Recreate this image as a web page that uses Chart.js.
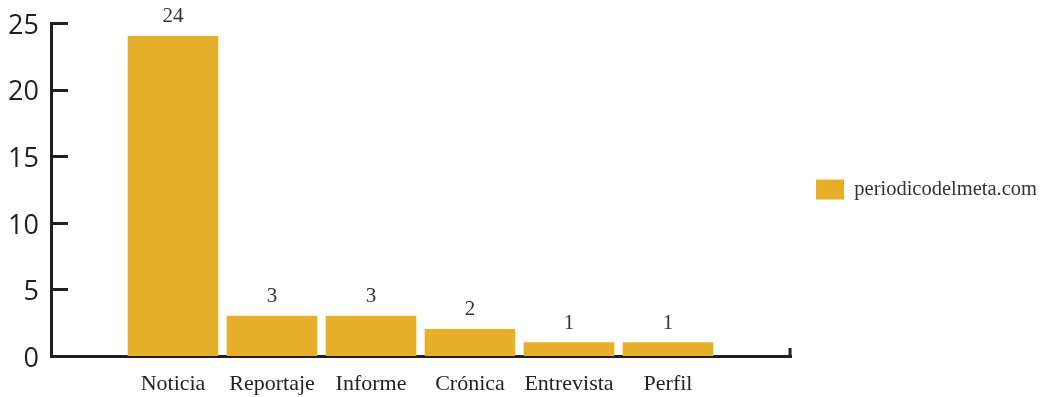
<!DOCTYPE html>
<html>
<head>
<meta charset="utf-8">
<script src="https://cdn.jsdelivr.net/npm/chart.js@4/dist/chart.umd.min.js"></script>
<style>
  html, body { margin: 0; padding: 0; background: #ffffff; }
  #wrap { width: 1045px; height: 397px; position: relative; }
</style>
</head>
<body>
<div id="wrap"><canvas id="c" width="1045" height="397"></canvas></div>
<script>
const categories = ['Noticia', 'Reportaje', 'Informe', 'Crónica', 'Entrevista', 'Perfil'];
const seriesName = 'periodicodelmeta.com';
const seriesValues = [24, 3, 3, 2, 1, 1];
const yTicks = [0, 5, 10, 15, 20, 25];

const BAR_COLOR = '#E6AF2A';
const AXIS_COLOR = '#231F20';
const SERIF = '"Liberation Serif", "DejaVu Serif", serif';
const SANS = '"Open Sans", "Noto Sans", sans-serif';

const positions = categories.map((c, i) => i + 1);
const points = positions.map((x, i) => ({ x: x, y: seriesValues[i] }));

const decorations = {
  id: 'decorations',
  afterDatasetsDraw(chart) {
    const ctx = chart.ctx;
    const ys = chart.scales.y;
    const xs = chart.scales.x;
    ctx.save();
    ctx.strokeStyle = AXIS_COLOR;
    ctx.lineWidth = 3;
    ys.ticks.forEach(t => {
      if (t.value === 0) return;
      const py = Math.round(ys.getPixelForValue(t.value)) + 0.5;
      ctx.beginPath();
      ctx.moveTo(xs.left, py);
      ctx.lineTo(xs.left + 17, py);
      ctx.stroke();
    });
    ctx.beginPath();
    ctx.moveTo(xs.right - 1, ys.bottom + 1);
    ctx.lineTo(xs.right - 1, ys.bottom - 8);
    ctx.stroke();
    const meta = chart.getDatasetMeta(0);
    ctx.fillStyle = '#333333';
    ctx.font = '21px ' + SERIF;
    ctx.textAlign = 'center';
    ctx.textBaseline = 'alphabetic';
    meta.data.forEach((bar, i) => {
      ctx.fillText(String(seriesValues[i]), bar.x, bar.y - 14);
    });
    ctx.restore();
  }
};

new Chart(document.getElementById('c'), {
  type: 'bar',
  data: {
    datasets: [{
      label: seriesName,
      data: points,
      backgroundColor: BAR_COLOR,
      borderWidth: 0,
      barThickness: 90
    }]
  },
  options: {
    responsive: false,
    animation: false,
    events: [],
    layout: { padding: { top: 0, right: -2, bottom: 0, left: 0 } },
    plugins: {
      legend: {
        position: 'right',
        align: 'center',
        fullSize: false,
        labels: {
          boxWidth: 28,
          boxHeight: 20,
          padding: 25,
          color: '#333333',
          font: { family: SERIF, size: 20.5 }
        }
      },
      tooltip: { enabled: false }
    },
    scales: {
      x: {
        type: 'linear',
        offset: false,
        min: -0.2323,
        max: 7.2424,
        afterBuildTicks(scale) {
          scale.ticks = positions.map(v => ({ value: v }));
        },
        afterFit(scale) { scale.height = 41; },
        grid: { display: false, drawTicks: false, offset: false },
        border: { display: true, color: AXIS_COLOR, width: 3 },
        ticks: {
          autoSkip: false,
          maxRotation: 0,
          padding: 15,
          color: '#222222',
          font: { family: SERIF, size: 22 },
          callback(value) {
            const idx = positions.indexOf(value);
            return idx >= 0 ? categories[idx] : '';
          }
        }
      },
      y: {
        min: 0,
        max: 25,
        afterBuildTicks(scale) {
          scale.ticks = yTicks.map(v => ({ value: v }));
        },
        afterFit(scale) { scale.width = 51; },
        grid: { display: false, drawTicks: false },
        border: { display: true, color: AXIS_COLOR, width: 3 },
        ticks: {
          padding: 12,
          labelOffset: 3,
          color: '#231F20',
          font: { family: SANS, size: 27, lineHeight: 0.82 }
        }
      }
    }
  },
  plugins: [decorations]
});
</script>
</body>
</html>
